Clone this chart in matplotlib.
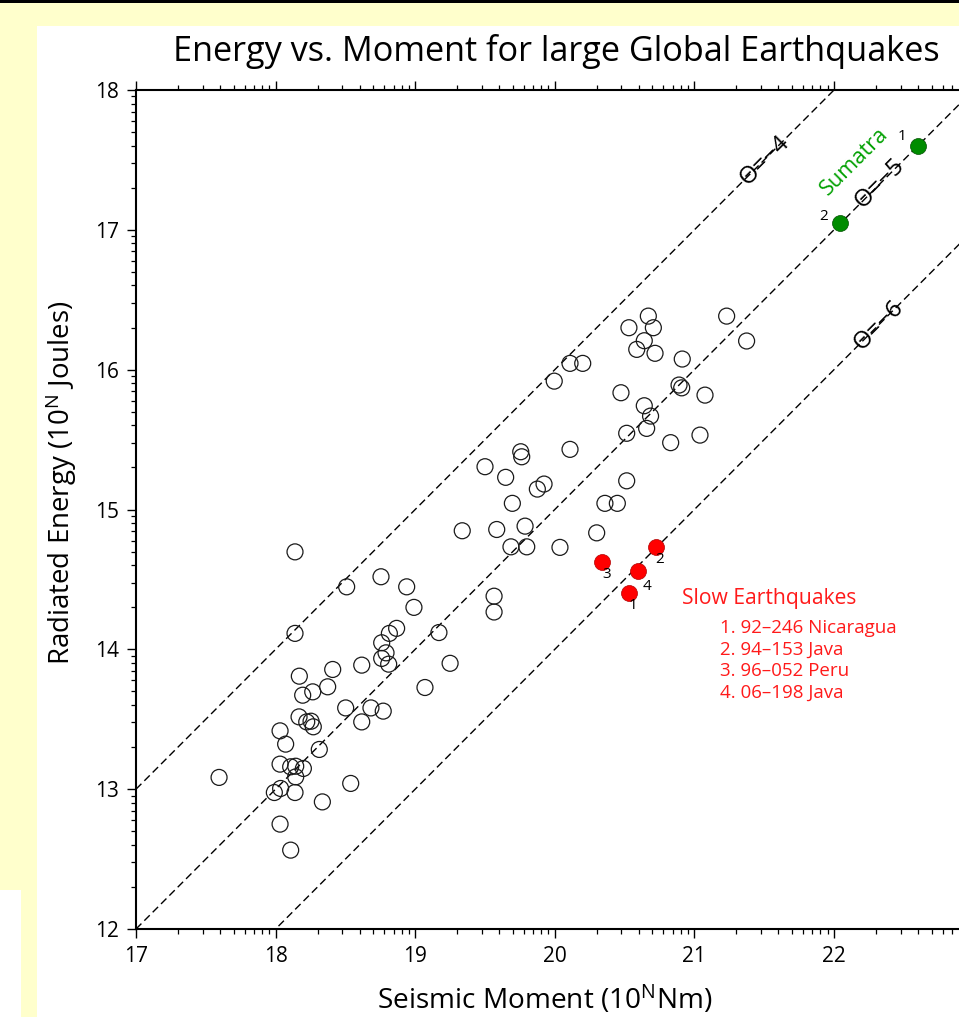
import matplotlib
matplotlib.use("Agg")
import matplotlib.pyplot as plt
import numpy as np
from matplotlib.patches import Rectangle
from matplotlib.ticker import FixedLocator, NullFormatter

plt.rcParams['font.family'] = ['Open Sans', 'DejaVu Sans']
plt.rcParams['mathtext.fontset'] = 'custom'
plt.rcParams['mathtext.rm'] = 'Open Sans'
plt.rcParams['mathtext.it'] = 'Open Sans:italic'
plt.rcParams['mathtext.bf'] = 'Open Sans:bold'

# ---------------- data ----------------
open_x = [18.139, 18.755, 18.509, 18.939, 18.991, 18.139, 18.867, 18.815, 18.760, 18.791,
          18.760, 18.810, 18.617, 18.409, 18.170, 18.373, 18.266, 18.194, 19.070, 18.168,
          18.223, 18.254, 18.270, 18.502, 18.683, 18.771, 18.617, 18.032, 18.072, 18.313,
          18.032, 18.108, 18.144, 18.199, 18.144, 17.595, 18.538, 18.036, 17.991, 18.139,
          18.335, 18.032, 18.108,
          19.337, 19.584, 19.787, 19.686, 19.799, 20.037, 20.300, 20.359, 20.448, 20.515,
          19.696, 19.875, 19.923, 19.648, 19.500, 19.756, 19.763, 20.109, 20.515, 20.658,
          20.686, 20.641, 20.830, 21.040, 21.076, 20.474, 20.890, 20.909, 20.913, 20.531,
          20.670, 20.706, 20.641, 20.587, 20.718, 21.231, 21.374, 20.109, 20.200, 19.996,
          19.565, 19.565, 19.170, 19.250]
open_y = [14.697, 14.519, 14.447, 14.447, 14.300, 14.114, 14.150, 14.114, 14.047, 13.975,
          13.935, 13.894, 13.887, 13.856, 13.808, 13.732, 13.696, 13.672, 13.727, 13.517,
          13.481, 13.486, 13.446, 13.581, 13.581, 13.558, 13.481, 13.417, 13.322, 13.284,
          13.179, 13.160, 13.164, 13.148, 13.088, 13.084, 13.041, 13.005, 12.976, 12.976,
          12.909, 12.750, 12.564,
          14.848, 14.857, 14.881, 14.733, 14.733, 14.729, 14.833, 15.044, 15.044, 15.205,
          15.044, 15.146, 15.182, 15.230, 15.306, 15.413, 15.377, 15.430, 15.545, 15.580,
          15.668, 15.742, 15.478, 15.532, 15.818, 15.835, 15.890, 15.870, 16.076, 16.300,
          16.383, 16.300, 16.207, 16.145, 16.117, 16.383, 16.205, 16.045, 16.045, 15.918,
          14.380, 14.267, 14.120, 13.900]

slow_x = [20.534, 20.723, 20.340, 20.598]
slow_y = [14.400, 14.729, 14.626, 14.559]
slow_labels = ["1", "2", "3", "4"]

sumatra_x = [22.604, 22.043]
sumatra_y = [17.600, 17.046]
sumatra_labels = ["1", "2"]

theta_values = [-4, -5, -6]
theta_labels = ["Θ=−4", "Θ=−5", "Θ=−6"]

slow_list = ["1. 92\u2013246 Nicaragua", "2. 94\u2013153 Java",
             "3. 96\u2013052 Peru", "4. 06\u2013198 Java"]

x_major = [17, 18, 19, 20, 21, 22, 23]
x_major_labels = ["17", "18", "19", "20", "21", "22", ""]
y_major = [12, 13, 14, 15, 16, 17, 18]
y_major_labels = ["12", "13", "14", "15", "16", "17", "18"]

# ---------------- figure ----------------
W, H = 959, 1017
fig = plt.figure(figsize=(W / 100, H / 100), dpi=100)
fig.patch.set_facecolor('#FFFFCC')
renderer = fig.canvas.get_renderer()

def px_rect(x0, y0, x1, y1, color):
    # pixel coords measured from top-left
    r = Rectangle((x0 / W, 1 - y1 / H), (x1 - x0) / W, (y1 - y0) / H,
                  transform=fig.transFigure, facecolor=color, edgecolor='none', zorder=-10)
    fig.add_artist(r)

px_rect(37, 26, W, H, 'white')
px_rect(0, 890, 21, H, 'white')
px_rect(0, 0, W, 2.5, 'black')

ax_left, ax_top = 136, 90
ux, uy = 139.6, 139.8
ax = fig.add_axes([ax_left / W, (H - 929) / H, 6 * ux / W, (929 - ax_top) / H])
ax.set_xlim(17, 23)
ax.set_ylim(12, 18)
ax.set_facecolor('white')

for s in ax.spines.values():
    s.set_linewidth(1.5)

ax.xaxis.set_major_locator(FixedLocator(x_major))
ax.yaxis.set_major_locator(FixedLocator(y_major))
xminor = [n + np.log10(k) for n in range(17, 23) for k in range(2, 10)]
yminor = [n + np.log10(k) for n in range(12, 18) for k in range(2, 10)]
ax.xaxis.set_minor_locator(FixedLocator(xminor))
ax.yaxis.set_minor_locator(FixedLocator(yminor))
ax.xaxis.set_minor_formatter(NullFormatter())
ax.yaxis.set_minor_formatter(NullFormatter())
ax.tick_params(which='both', direction='out', top=True, right=True,
               labeltop=False, labelright=False)
ax.tick_params(which='major', length=6.5, width=1.0, labelsize=15, pad=6)
ax.tick_params(which='minor', length=3.6, width=0.9)
ax.set_xticklabels(x_major_labels)
ax.set_yticklabels(y_major_labels)

# theta reference lines
xs = np.array([17.0, 23.0])
for th in theta_values:
    ax.plot(xs, xs + th, color='black', lw=1.0, ls=(0, (5.5, 3.0)), zorder=2)

theta_label_x = [21.50, 22.33, 22.32]
for th, lab, lx in zip(theta_values, theta_labels, theta_label_x):
    ax.text(lx, lx + th, lab, rotation=45, ha='center', va='center',
            fontsize=17.5, color='black', zorder=4,
            family=['Open Sans', 'DejaVu Sans'])

# open circles
ax.scatter(open_x, open_y, s=132, facecolors='none', edgecolors='#1a1a1a',
           linewidths=0.9, zorder=3)

# slow earthquakes
ax.scatter(slow_x, slow_y, s=132, facecolors='#ff0000', edgecolors='#b00000',
           linewidths=0.5, zorder=4)
slow_off = [(2.5, -8.5), (3, -9), (3, -9), (6, -11)]
for x, y, lab, off in zip(slow_x, slow_y, slow_labels, slow_off):
    ax.annotate(lab, (x, y), xytext=off, textcoords='offset points',
                ha='center', va='center', fontsize=11, color='black', zorder=5)

# sumatra
ax.scatter(sumatra_x, sumatra_y, s=132, facecolors='#008c00', edgecolors='#005000',
           linewidths=0.5, zorder=4)
sum_off = [(-12, 6.5), (-12, 5)]
for x, y, lab, off in zip(sumatra_x, sumatra_y, sumatra_labels, sum_off):
    ax.annotate(lab, (x, y), xytext=off, textcoords='offset points',
                ha='center', va='center', fontsize=11, color='black', zorder=5)

t_sum = ax.text(22.15, 17.49, "Sumatra", rotation=45, ha='center', va='center',
                fontsize=15, color='#00a000', zorder=5)

# slow earthquakes legend text
def dx(px):
    return 17 + (px - ax_left) / ux

def dy(py):
    return 18 - (py - ax_top) / uy

def fit(t, target):
    rot = t.get_rotation()
    t.set_rotation(0)
    for _ in range(3):
        w = t.get_window_extent(renderer).width
        t.set_fontsize(t.get_fontsize() * target / w)
    t.set_rotation(rot)

t_slow = ax.text(dx(682), dy(598), "Slow Earthquakes", ha='left', va='center',
                 fontsize=15, color='#ff1a1a', zorder=5)
fit(t_slow, 176)
list_y = [628, 649.5, 671, 692.5]
tl = []
for py, s in zip(list_y, slow_list):
    tl.append(ax.text(dx(720), dy(py), s, ha='left', va='center', fontsize=12,
                      color='#ff1a1a', zorder=5))
fit(tl[0], 177)
for t in tl[1:]:
    t.set_fontsize(tl[0].get_fontsize())

fit(t_sum, 86)

# titles and axis labels
t_title = fig.text(556 / W, 1 - 61 / H, "Energy vs. Moment for large Global Earthquakes",
                   ha='center', va='baseline', fontsize=23, color='black')
fit(t_title, 767)
t_x = fig.text(545 / W, 1 - 1009 / H, r"Seismic Moment (10$^{\mathrm{N}}$Nm)",
               ha='center', va='baseline', fontsize=18, color='black')
fit(t_x, 335)
t_y = fig.text(61 / W, 1 - 482.5 / H, r"Radiated Energy (10$^{\mathrm{N}}$ Joules)",
               ha='center', va='center', rotation=90, fontsize=18, color='black')
fit(t_y, 365)

fig.savefig("out.png", dpi=100, facecolor=fig.get_facecolor())
